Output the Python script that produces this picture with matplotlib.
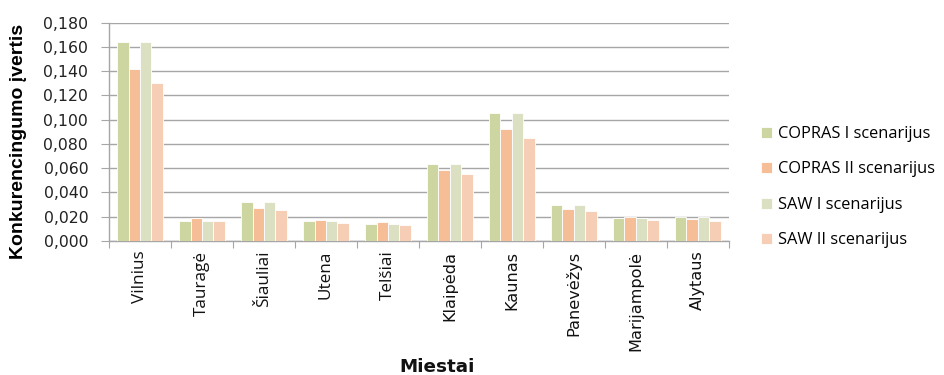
import matplotlib
matplotlib.use("Agg")
import matplotlib.pyplot as plt
import numpy as np
from matplotlib.ticker import FuncFormatter

cities = ["Vilnius", "Tauragė", "Šiauliai", "Utena", "Telšiai",
          "Klaipėda", "Kaunas", "Panevėžys", "Marijampolė", "Alytaus"]
copras_1 = [0.164, 0.0165, 0.0322, 0.0165, 0.0143, 0.0638, 0.1054, 0.0300, 0.0193, 0.0195]
copras_2 = [0.1417, 0.0190, 0.0275, 0.0171, 0.0157, 0.0583, 0.0922, 0.0267, 0.0195, 0.0179]
saw_1 = [0.164, 0.0165, 0.0322, 0.0165, 0.0140, 0.0638, 0.1054, 0.0300, 0.0193, 0.0195]
saw_2 = [0.130, 0.0165, 0.0253, 0.0151, 0.0132, 0.0550, 0.0853, 0.0245, 0.0171, 0.0162]
series_names = ["COPRAS I scenarijus", "COPRAS II scenarijus",
                "SAW I scenarijus", "SAW II scenarijus"]
colors = ["#CDD6A0", "#F6BE96", "#DBE0C2", "#F6CEB6"]

fig = plt.figure(figsize=(9.44, 3.75), dpi=100)
ax = fig.add_axes([0.1155, 0.3573, 0.6565, 0.5822])

x = np.arange(len(cities))
bw = 0.184
handles = []
for i, (vals, c, name) in enumerate(zip([copras_1, copras_2, saw_1, saw_2], colors, series_names)):
    b = ax.bar(x + (i - 1.5) * bw, vals, width=bw, color=c, edgecolor="white",
               linewidth=0.6, label=name, zorder=3)
    handles.append(b)

ax.set_xlim(-0.5, len(cities) - 0.5)
ax.set_ylim(0, 0.180)
ax.set_yticks(np.arange(0, 0.1801, 0.02))
ax.yaxis.set_major_formatter(FuncFormatter(lambda v, p: f"{v:.3f}".replace(".", ",")))
ax.grid(axis="y", color="#A6A6A6", linewidth=1.0, zorder=0)

for s in ["top", "right"]:
    ax.spines[s].set_visible(False)
for s in ["left", "bottom"]:
    ax.spines[s].set_color("#A6A6A6")
    ax.spines[s].set_linewidth(1.0)

# category boundaries carry the x tick marks; labels sit at centres
ax.set_xticks(np.arange(-0.5, len(cities)), minor=False)
ax.set_xticklabels([])
ax.tick_params(axis="x", which="major", length=5, color="#A6A6A6", direction="out")
ax.set_xticks(x, minor=True)
ax.tick_params(axis="x", which="minor", length=0, pad=7)
ax.set_xticklabels(cities, minor=True, rotation=90, va="top", ha="center")
for k, lbl in enumerate(ax.get_xticklabels(minor=True)):
    if k < 5:
        lbl.set_fontfamily(["Open Sans", "DejaVu Sans"])
        lbl.set_fontsize(12.3)
    else:
        lbl.set_fontfamily(["DejaVu Sans"])
        lbl.set_fontsize(11.6)
    lbl.set_color("#111111")

ax.tick_params(axis="y", length=6, color="#A6A6A6", direction="out", pad=9)
for lbl in ax.get_yticklabels():
    lbl.set_fontsize(11.3)
    lbl.set_fontfamily("DejaVu Sans")
    lbl.set_color("#222222")

ax.set_ylabel("Konkurencingumo įvertis", fontsize=14, fontweight="bold",
              family="Liberation Sans")
ax.yaxis.set_label_coords(-0.133, 0.455)
fig.text(0.463, 0.009, "Miestai", fontsize=13.2, fontweight="bold",
         family="DejaVu Sans", ha="center", va="baseline", color="#111111")

leg = fig.legend(handles=handles, labels=series_names, loc="upper left",
                 bbox_to_anchor=(0.791, 0.703), frameon=False,
                 prop={"family": "Open Sans", "size": 11.8},
                 handlelength=0.65, handleheight=0.65, handletextpad=0.35,
                 labelspacing=1.18)

fig.savefig("out.png", dpi=100)
